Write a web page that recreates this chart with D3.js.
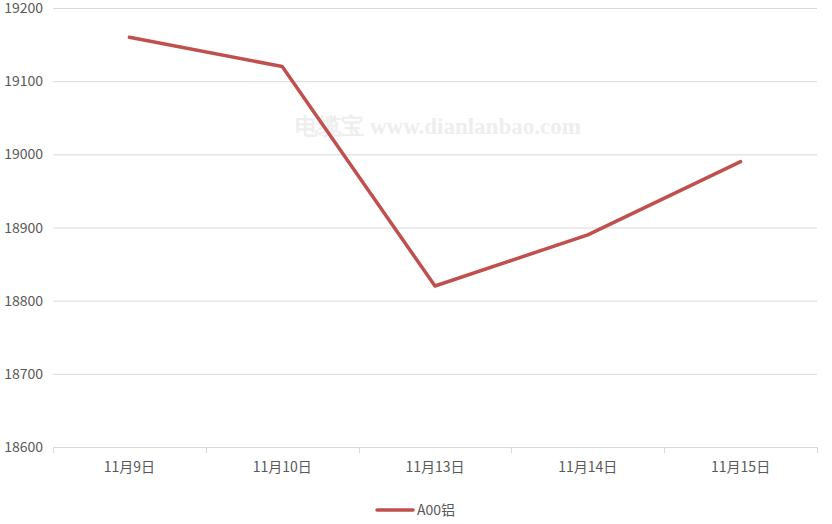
<!DOCTYPE html>
<html><head><meta charset="utf-8">
<script src="https://cdn.jsdelivr.net/npm/d3@7"></script>
<style>body{margin:0;background:#fff}svg{display:block}</style>
</head><body>
<svg id="c" width="832" height="524"></svg>
<script>
const categories = ["11月9日","11月10日","11月13日","11月14日","11月15日"];
const values = [19160, 19120, 18820, 18890, 18990];
const yTicks = [18600,18700,18800,18900,19000,19100,19200];
const seriesName = "A00铝";

const svg = d3.select("#c");
const m = {l:53, r:817, t:8, b:447};
const font = "'Noto Sans CJK SC','Noto Sans',sans-serif";
const x = d3.scaleBand().domain(categories).range([m.l, m.r]);
const y = d3.scaleLinear().domain([18600,19200]).range([m.b, m.t]);

// gridlines
svg.append("g").selectAll("line").data(yTicks).join("line")
  .attr("x1", m.l).attr("x2", m.r)
  .attr("y1", d=>y(d)+0.5).attr("y2", d=>y(d)+0.5)
  .attr("stroke", "#d9d9d9").attr("stroke-width", 1);

// y labels
svg.append("g").selectAll("text").data(yTicks).join("text")
  .attr("x", 43).attr("y", d=>y(d)).attr("dy","0.36em")
  .attr("text-anchor","end").attr("font-family",font).attr("font-size",14)
  .attr("fill","#595959").text(d=>d);

// x axis tick marks
const edges = categories.map(c=>x(c)).concat([m.r]);
svg.append("g").selectAll("line").data(edges).join("line")
  .attr("x1", d=>Math.round(d)+0.5).attr("x2", d=>Math.round(d)+0.5)
  .attr("y1", m.b).attr("y2", m.b+6)
  .attr("stroke","#d9d9d9");

// x labels
svg.append("g").selectAll("text").data(categories).join("text")
  .attr("x", d=>x(d)+x.bandwidth()/2).attr("y", 472)
  .attr("text-anchor","middle").attr("font-family",font).attr("font-size",14)
  .attr("fill","#595959").text(d=>d);

// watermark
svg.append("text").attr("x", 438).attr("y", 134).attr("text-anchor","middle")
  .attr("font-family","'Liberation Serif','DejaVu Serif',serif").attr("font-weight","bold")
  .attr("font-size",23).attr("fill","#eeeeee")
  .text("电缆宝 www.dianlanbao.com");

// line
const line = d3.line().x((d,i)=>x(categories[i])+x.bandwidth()/2).y(d=>y(d));
svg.append("path").datum(values).attr("d", line)
  .attr("fill","none").attr("stroke","#c0504d").attr("stroke-width",3.5)
  .attr("stroke-linejoin","round").attr("stroke-linecap","round");

// legend
svg.append("line").attr("x1",377).attr("x2",413).attr("y1",510).attr("y2",510)
  .attr("stroke","#c0504d").attr("stroke-width",3.5).attr("stroke-linecap","round");
svg.append("text").attr("x",417).attr("y",510).attr("dy","0.36em")
  .attr("font-family",font).attr("font-size",14).attr("fill","#595959").text(seriesName);
</script>
</body></html>
